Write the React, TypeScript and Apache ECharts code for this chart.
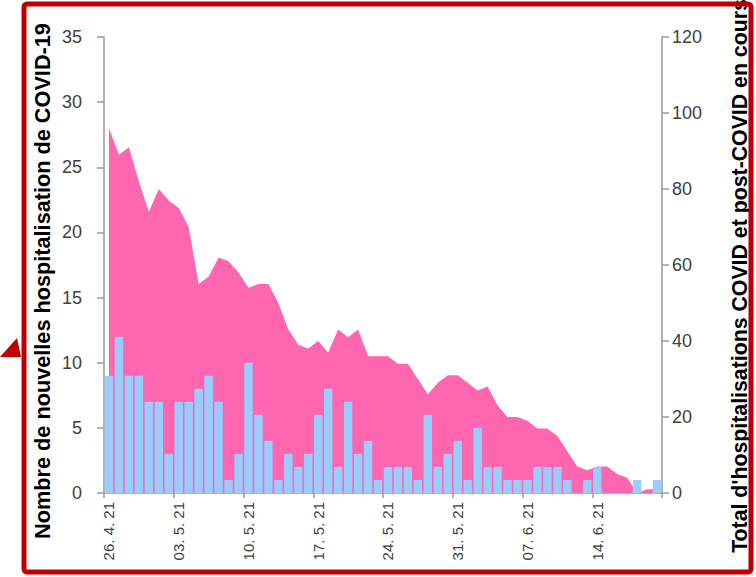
import React, { useEffect, useRef } from "react";
import * as echarts from "echarts";

const categories: string[] = [
  "26. 4. 21", "27. 4. 21", "28. 4. 21", "29. 4. 21", "30. 4. 21",
  "01. 5. 21", "02. 5. 21", "03. 5. 21", "04. 5. 21", "05. 5. 21", "06. 5. 21", "07. 5. 21",
  "08. 5. 21", "09. 5. 21", "10. 5. 21", "11. 5. 21", "12. 5. 21", "13. 5. 21", "14. 5. 21",
  "15. 5. 21", "16. 5. 21", "17. 5. 21", "18. 5. 21", "19. 5. 21", "20. 5. 21", "21. 5. 21",
  "22. 5. 21", "23. 5. 21", "24. 5. 21", "25. 5. 21", "26. 5. 21", "27. 5. 21", "28. 5. 21",
  "29. 5. 21", "30. 5. 21", "31. 5. 21", "01. 6. 21", "02. 6. 21", "03. 6. 21", "04. 6. 21",
  "05. 6. 21", "06. 6. 21", "07. 6. 21", "08. 6. 21", "09. 6. 21", "10. 6. 21", "11. 6. 21",
  "12. 6. 21", "13. 6. 21", "14. 6. 21", "15. 6. 21", "16. 6. 21", "17. 6. 21", "18. 6. 21",
  "19. 6. 21", "20. 6. 21",
];

const newHospitalisations: number[] = [
  9, 12, 9, 9, 7, 7, 3, 7, 7, 8,
  9, 7, 1, 3, 10, 6, 4, 1, 3, 2,
  3, 6, 8, 2, 7, 3, 4, 1, 2, 2,
  2, 1, 6, 2, 3, 4, 1, 5, 2, 2,
  1, 1, 1, 2, 2, 2, 1, 0, 1, 2,
  0, 0, 0, 1, 0, 1,
];

const totalHospitalisations: number[] = [
  96, 89, 91, 82, 74, 80, 77, 75, 70, 55,
  57, 62, 61, 58, 54, 55, 55, 50, 43, 39,
  38, 40, 37, 43, 41, 43, 36, 36, 36, 34,
  34, 30, 26, 29, 31, 31, 29, 27, 28, 23,
  20, 20, 19, 17, 17, 15, 11, 7, 6, 7,
  7, 5, 4, 0, 1, 1,
];

const leftTitle = "Nombre de nouvelles hospitalisation de COVID-19";
const rightTitle = "Total d'hospitalisations COVID et post-COVID en cours";

const FONT = "Liberation Sans, Arial, sans-serif";

export default function App() {
  const ref = useRef<HTMLDivElement>(null);
  useEffect(() => {
    if (!ref.current) return;
    const chart = echarts.init(ref.current, null, { renderer: "svg" });
    const axisLineStyle = { color: "#9a9a9a", width: 1.5 };
    chart.setOption({
      animation: false,
      backgroundColor: "#ffffff",
      textStyle: { fontFamily: FONT },
      grid: { left: 104, right: 94, top: 37, bottom: 84 },
      xAxis: {
        type: "category",
        data: categories,
        boundaryGap: true,
        axisLine: { lineStyle: axisLineStyle },
        axisTick: { show: true, interval: 6, length: 5, lineStyle: axisLineStyle },
        axisLabel: {
          interval: 6,
          rotate: 90,
          margin: 9,
          fontSize: 15,
          color: "#404040",
          fontFamily: FONT,
        },
        splitLine: { show: false },
      },
      yAxis: [
        {
          type: "value",
          min: 0,
          max: 35,
          interval: 5,
          position: "left",
          axisLine: { show: true, lineStyle: axisLineStyle },
          axisTick: { show: true, length: 7, lineStyle: axisLineStyle },
          axisLabel: { fontSize: 18, color: "#404040", margin: 22, fontFamily: FONT },
          splitLine: { show: false },
        },
        {
          type: "value",
          min: 0,
          max: 120,
          interval: 20,
          position: "right",
          axisLine: { show: true, lineStyle: axisLineStyle },
          axisTick: { show: true, length: 7, lineStyle: axisLineStyle },
          axisLabel: { fontSize: 18, color: "#404040", margin: 10, fontFamily: FONT },
          splitLine: { show: false },
        },
      ],
      series: [
        {
          name: "Total",
          type: "line",
          yAxisIndex: 1,
          data: totalHospitalisations,
          symbol: "none",
          lineStyle: { width: 0, color: "#FF66B0" },
          areaStyle: { color: "#FF66B0", opacity: 1 },
          z: 1,
        },
        {
          name: "Nouvelles",
          type: "bar",
          yAxisIndex: 0,
          data: newHospitalisations,
          barCategoryGap: "16%",
          itemStyle: { color: "#99CCFF" },
          z: 2,
        },
      ],
      graphic: [
        {
          type: "text",
          x: 42,
          y: 281,
          rotation: Math.PI / 2,
          style: {
            text: leftTitle,
            fontSize: 21.7,
            fontWeight: "bold",
            fontFamily: FONT,
            fill: "#000000",
            align: "center",
            verticalAlign: "middle",
          },
        },
        {
          type: "text",
          x: 740,
          y: 276,
          rotation: Math.PI / 2,
          style: {
            text: rightTitle,
            fontSize: 21.3,
            fontWeight: "bold",
            fontFamily: FONT,
            fill: "#000000",
            align: "center",
            verticalAlign: "middle",
          },
        },
        {
          type: "rect",
          shape: { x: 24, y: 4, width: 727, height: 568, r: 3 },
          style: { fill: "none", stroke: "#C00000", lineWidth: 5 },
          z: 10,
        },
        {
          type: "polygon",
          shape: { points: [[0, 357], [21, 357], [17, 338]] },
          style: { fill: "#C00000" },
          z: 10,
        },
      ],
    });
    return () => chart.dispose();
  }, []);
  return (
    <div
      ref={ref}
      style={{ position: "absolute", left: 0, top: 0, width: 756, height: 577 }}
    />
  );
}
